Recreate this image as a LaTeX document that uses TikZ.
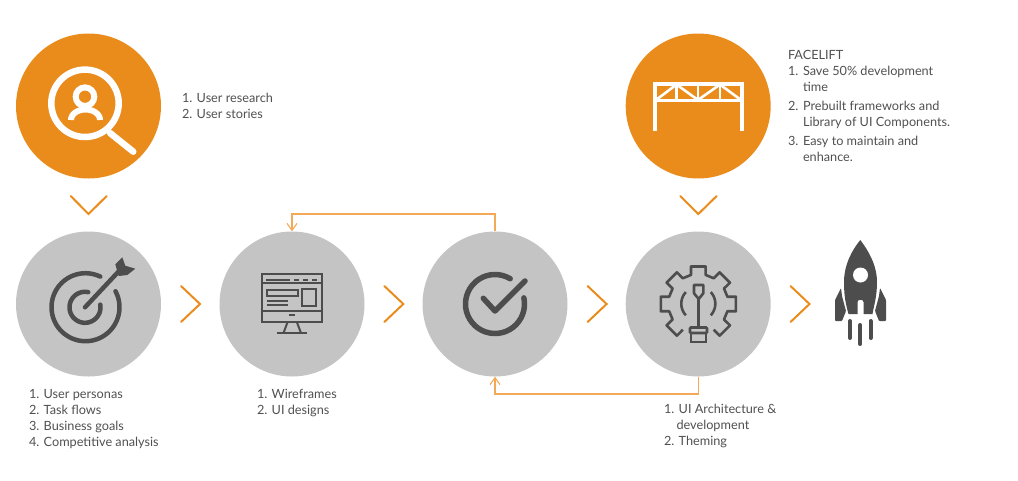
\documentclass[tikz,border=0pt]{standalone}
\usepackage{fontspec}
\setmainfont{Lato}
\usetikzlibrary{arrows.meta}
\definecolor{orangeA}{HTML}{EA8C1C}
\definecolor{orangeL}{HTML}{F3A957}
\definecolor{greyC}{HTML}{C4C4C4}
\definecolor{darkI}{HTML}{4D4D4D}
\definecolor{txt}{HTML}{505050}
\tikzset{
  bigcirc/.style={circle,minimum size=145pt,inner sep=0pt,draw=none},
  orangecirc/.style={bigcirc,fill=orangeA},
  greycirc/.style={bigcirc,fill=greyC},
  chev/.style={draw=orangeA,line width=2pt,line cap=round,line join=miter},
  link/.style={draw=orangeL,line width=1.1pt,-{Straight Barb[length=7pt,width=10pt,line width=1.1pt]}},
  wicon/.style={draw=white,line width=6.5pt},
  dicon/.style={draw=darkI,line width=4.5pt,line cap=round},
  fine/.style={draw=darkI,line width=2pt},
  label/.style={anchor=north west,inner sep=0pt,outer sep=0pt,align=left,text=txt,font=\fontsize{12.7}{16}\selectfont}
}
\newcommand{\ArcP}[7][]{\draw[#1] plot[smooth,domain=#6:#7,samples=40] ({#2+#4*cos(\x)},{#3+#5*sin(\x)});}
\newcommand{\LI}[1]{\makebox[15pt][l]{#1}}
\begin{document}
\begin{tikzpicture}[x=1pt,y=-1pt]
\useasboundingbox (0,0) rectangle (1018,480);
\node[orangecirc] (o1) at (88.5,106) {};
\node[orangecirc] (o2) at (698.2,106) {};
\node[greycirc] (g1) at (88.5,304) {};
\node[greycirc] (g2) at (292,304) {};
\node[greycirc] (g3) at (495,304) {};
\node[greycirc] (g4) at (698.2,304) {};
% chevrons
\draw[chev] (70.7,196) -- (88.5,214) -- (106.7,196);
\draw[chev] (680.3,196) -- (698.3,214) -- (716.7,196);
\draw[chev] (181,286) -- (200,304) -- (181,322);
\draw[chev] (384.3,286) -- (403.3,304) -- (384.3,322);
\draw[chev] (587.6,286) -- (606.6,304) -- (587.6,322);
\draw[chev] (790.5,286) -- (809.5,304) -- (790.5,322);
% connectors
\coordinate (topturn) at (495,214);
\coordinate (botturn) at (698.2,394);
\draw[link] (g3.north) -- (topturn) -| (g2.north);
\draw[link] (g4.south) -- (botturn) -| (g3.south);
% search icon
\draw[wicon] (85,103.3) circle[radius=33.7];
\draw[wicon,line cap=round] (110,133) -- (133.3,151.7);
\draw[draw=white,line width=6pt] (85,96.7) circle[radius=9.3];
\ArcP[draw=white,line width=6pt]{85.5}{120}{14.5}{10.5}{180}{360}
% frame icon
\draw[draw=white,line width=3.8pt] (654.7,131) -- (654.7,84) -- (742,84) -- (742,131);
\draw[draw=white,line width=3pt] (655,100) -- (742,100);
\draw[draw=white,line width=2.6pt] (656,100) -- (676.5,84.5) -- (698,100) -- (720,84.5) -- (741,100);
\draw[draw=white,line width=2.6pt] (676.5,84) -- (676.5,100) (698,84) -- (698,100) (720,84) -- (720,100);
% target
\ArcP[dicon]{85.5}{307.2}{34}{34}{-28}{296}
\ArcP[dicon]{85}{307.3}{15.5}{15.5}{-10}{282}
\draw[dicon] (85,307.3) -- (120,270);
\fill[darkI] (115.3,264.3) -- (122.3,257.3) -- (125.3,265.7) -- (135.3,268.7) -- (127.3,275) -- (118.7,276) -- cycle;
% wireframe
\draw[fine] (262,274.3) rectangle (322,321.7);
\draw[fine] (262,283.3) -- (322,283.3) (262,311) -- (322,311);
\draw[fine] (266,280) -- (290,280) (294,280) -- (299,280) (303.3,280) -- (308.3,280) (312.3,280) -- (317.3,280);
\draw[fine] (266.7,290) rectangle (298.3,295.5);
\draw[fine] (302.3,289.3) rectangle (315.7,305.7);
\draw[fine] (266.7,300.7) -- (287.7,300.7) (266.7,305) -- (287.7,305);
\draw[fine] (289,315) -- (295,315);
\draw[fine] (287.7,321.7) -- (283.5,333) (296.7,321.7) -- (301,333);
\draw[fine] (276.7,333.3) -- (306.7,333.3);
% check
\ArcP[dicon,line width=5.5pt]{495}{304}{29.5}{29.5}{-12}{301}
\draw[dicon,line width=5.5pt,line join=round] (483.3,298.3) -- (495,311) -- (525,281);
% gear
\draw[fine,line width=2.6pt,line join=round] ({698.3+30*cos(121)},{304+30*sin(121)})
  \foreach \t in {135,180,...,405}{
    -- ({698.3+30*cos(\t-14)},{304+30*sin(\t-14)})
    -- ({698.3+38.2*cos(\t-11)},{304+38.2*sin(\t-11)})
    -- ({698.3+38.2*cos(\t+11)},{304+38.2*sin(\t+11)})
    -- ({698.3+30*cos(\t+14)},{304+30*sin(\t+14)})
  };
\ArcP[fine,line width=2.6pt]{698.3}{303.7}{17}{17}{137}{223}
\ArcP[fine,line width=2.6pt]{698.3}{303.7}{17}{17}{-43}{43}
\draw[fine,line width=2.6pt,line join=round] (694,285) -- (703.3,285) -- (703.3,293.3) -- (698.7,299) -- (694,293.3) -- cycle;
\draw[fine,line width=2.6pt] (698.5,299) -- (698.5,327);
\draw[fine,line width=2.6pt,rounded corners=1pt] (690,333) -- (690,327.5) -- (707,327.5) -- (707,333) -- cycle;
\draw[fine,line width=2.6pt] (691,333) rectangle (706,342);
% rocket
\fill[darkI] (860.3,240) .. controls (868,250) and (877,265) .. (877,282) .. controls (877,297) and (874,305) .. (872.5,314) -- (863.5,314) -- (863.5,302) .. controls (863.5,299) and (857.5,299) .. (857.5,302) -- (857.5,314) -- (848.5,314) .. controls (846,305) and (844,297) .. (844,282) .. controls (844,265) and (852,250) .. (860.3,240) -- cycle;
\fill[white] (860.5,275) circle[radius=7.5];
\fill[darkI,rounded corners=0.8pt] (841,288) -- (835,300) -- (835,321) -- (842,321) -- (846,311) -- (842,296) -- cycle;
\fill[darkI,rounded corners=0.8pt] (880,288) -- (886,300) -- (886,321) -- (879,321) -- (875,311) -- (879,296) -- cycle;
\draw[draw=darkI,line width=4pt,line cap=round] (850,321) -- (850,338) (860.3,325) -- (860.3,344) (870.6,321) -- (870.6,338);
% text
\node[label] (t1) at (182,93) {1. User research\\2. User stories};
\node[label] (t2) at (29,389) {1. User personas\\2. Task flows\\3. Business goals\\4. Competitive analysis};
\node[label] (t3) at (257,389) {1. Wireframes\\2. UI designs};
\node[label] (t4) at (664,404.5) {1. UI Architecture \&\\\hspace*{12.5pt}development\\2. Theming};
\node[label] (t5) at (788,50.5) {FACELIFT\\\LI{1.}Save 50\% development\\\LI{}time\\[3pt]\LI{2.}Prebuilt frameworks and\\\LI{}Library of UI Components.\\[3pt]\LI{3.}Easy to maintain and\\\LI{}enhance.};
\end{tikzpicture}
\end{document}
